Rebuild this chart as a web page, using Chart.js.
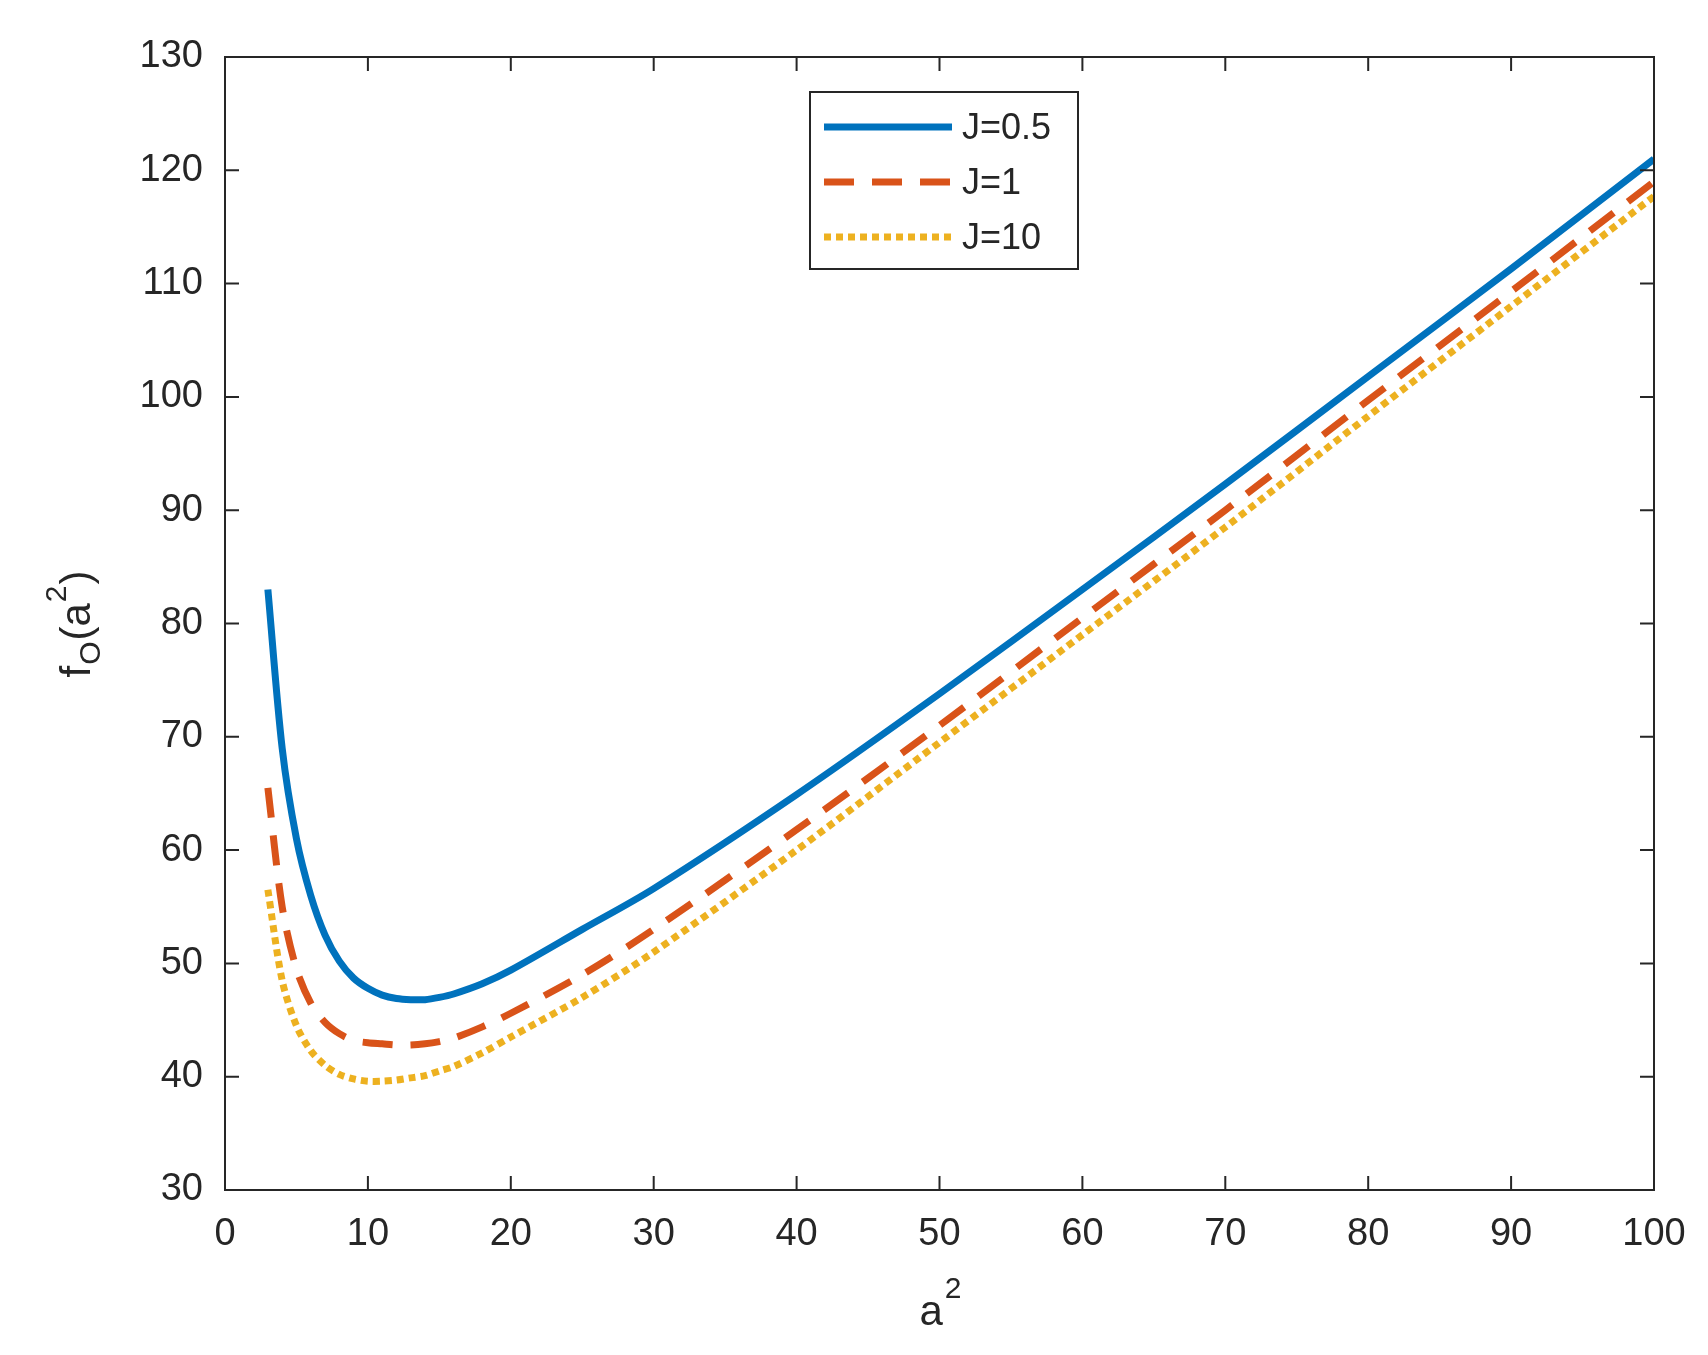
<!DOCTYPE html>
<html><head><meta charset="utf-8">
<script src="https://cdn.jsdelivr.net/npm/chart.js@4"></script>
<style>html,body{margin:0;padding:0;background:#fff}</style>
</head><body>
<canvas id="c" width="1708" height="1355"></canvas>
<script>
const xVals = [3,4,5,6,7,8,9,10,11,12,13,14,15,16,18,20,25,30,40,50,60,70,80,90,100];
const j05 = [83,69,61,56,52.5,50.2,48.7,47.8,47.2,46.9,46.8,46.8,47,47.3,48.2,49.4,53,56.6,64.9,73.8,83,92.3,101.8,111.3,121];
const j1  = [65.5,55,49.5,46.5,44.8,43.8,43.2,43,42.9,42.8,42.8,42.9,43.1,43.4,44.4,45.6,49,53,61.8,71,80.5,90,99.7,109.3,119];
const j10 = [56.5,48.5,44.5,42.3,41,40.2,39.8,39.6,39.6,39.7,39.9,40.1,40.5,40.9,42.1,43.5,47,51,60,69.5,79,88.5,98.3,108,117.7];
const seriesNames = ['J=0.5','J=1','J=10'];
const xTicks = [0,10,20,30,40,50,60,70,80,90,100];
const yTicks = [30,40,50,60,70,80,90,100,110,120,130];
const FONT = '"Liberation Sans", Arial, sans-serif';
const TXT = '#262626';
const pts = a => xVals.map((x,i)=>({x, y:a[i]}));

const framePlugin = {
  id:'frame',
  afterDraw(ch){
    const {ctx, chartArea:a, scales:{x,y}} = ch;
    ctx.save();
    ctx.strokeStyle = TXT; ctx.lineWidth = 2;
    ctx.strokeRect(a.left, a.top, a.right-a.left, a.bottom-a.top);
    const L = 14;
    xTicks.forEach(v=>{const p=x.getPixelForValue(v);
      ctx.beginPath();ctx.moveTo(p,a.bottom);ctx.lineTo(p,a.bottom-L);ctx.moveTo(p,a.top);ctx.lineTo(p,a.top+L);ctx.stroke();});
    yTicks.forEach(v=>{const p=y.getPixelForValue(v);
      ctx.beginPath();ctx.moveTo(a.left,p);ctx.lineTo(a.left+L,p);ctx.moveTo(a.right,p);ctx.lineTo(a.right-L,p);ctx.stroke();});
    ctx.fillStyle = TXT;
    ctx.textBaseline = 'alphabetic';
    ctx.font = '42px '+FONT;
    const cx = (a.left+a.right)/2;
    let w1 = ctx.measureText('a').width;
    ctx.font = '30px '+FONT; let w2 = ctx.measureText('2').width;
    let sx = cx - (w1+w2)/2;
    ctx.font = '42px '+FONT; ctx.fillText('a', sx, 1325);
    ctx.font = '30px '+FONT; ctx.fillText('2', sx+w1+2, 1298);
    ctx.translate(90, (a.top+a.bottom)/2); ctx.rotate(-Math.PI/2);
    const parts = [['f',42,0],['O',30,10],['(a',42,0],['2',30,-24],[')',42,0]];
    let tw=0; parts.forEach(p=>{ctx.font=p[1]+'px '+FONT; tw+=ctx.measureText(p[0]).width+1;});
    let px=-tw/2;
    parts.forEach(p=>{ctx.font=p[1]+'px '+FONT; ctx.fillText(p[0],px,p[2]); px+=ctx.measureText(p[0]).width+1;});
    ctx.restore();
    ctx.save();
    const lx=810, ly=92, lw=268, lh=177;
    ctx.fillStyle='#fff'; ctx.fillRect(lx,ly,lw,lh);
    ctx.strokeStyle=TXT; ctx.lineWidth=2; ctx.strokeRect(lx,ly,lw,lh);
    ch.data.datasets.forEach((ds,i)=>{
      const yy = ly+35+i*55;
      ctx.strokeStyle=ds.borderColor; ctx.lineWidth=ds.borderWidth; ctx.setLineDash(ds.borderDash||[]);
      ctx.beginPath(); ctx.moveTo(lx+14,yy); ctx.lineTo(lx+142,yy); ctx.stroke();
      ctx.setLineDash([]);
      ctx.fillStyle=TXT; ctx.font='36px '+FONT; ctx.textBaseline='middle';
      ctx.fillText(ds.label, lx+152, yy+2);
    });
    ctx.restore();
  }
};

new Chart(document.getElementById('c'), {
  type:'line',
  data:{datasets:[
    {label:seriesNames[0], data:pts(j05), borderColor:'#0072BD', borderWidth:7, pointRadius:0, tension:0.3, fill:false},
    {label:seriesNames[1], data:pts(j1), borderColor:'#D95319', borderWidth:7, borderDash:[30,18], pointRadius:0, tension:0.3, fill:false},
    {label:seriesNames[2], data:pts(j10), borderColor:'#EDB120', borderWidth:7, borderDash:[7,5], pointRadius:0, tension:0.3, fill:false}
  ]},
  options:{
    responsive:false, animation:false, devicePixelRatio:1,
    layout:{padding:{left:0,top:57,right:54,bottom:0}},
    plugins:{legend:{display:false}, tooltip:{enabled:false}},
    scales:{
      x:{type:'linear', min:0, max:100,
        afterBuildTicks:s=>{s.ticks=xTicks.map(v=>({value:v}));},
        afterFit:s=>{s.height=165;},
        grid:{display:false}, border:{display:false},
        ticks:{color:TXT, font:{family:FONT,size:38}, padding:14, maxRotation:0}},
      y:{type:'linear', min:30, max:130,
        afterBuildTicks:s=>{s.ticks=yTicks.map(v=>({value:v}));},
        afterFit:s=>{s.width=225;},
        grid:{display:false}, border:{display:false},
        ticks:{color:TXT, font:{family:FONT,size:38}, padding:14}}
    }
  },
  plugins:[framePlugin]
});
</script>
</body></html>
